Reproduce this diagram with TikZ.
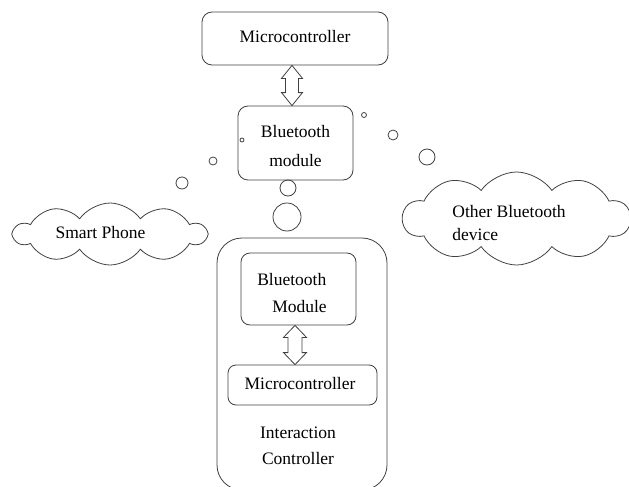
\documentclass[tikz,border=0pt]{standalone}
\usepackage{fontspec}
\setmainfont{Liberation Serif}
\usetikzlibrary{shapes.symbols,calc}
\begin{document}
\begin{tikzpicture}[x=1pt,y=-1pt,
  font=\fontsize{17.5}{21}\selectfont,
  ln/.style={draw=black!75,line width=0.8pt},
  rbox/.style={ln,rounded corners=#1,inner sep=0pt},
  bub/.style={ln,circle,inner sep=0pt,minimum size=#1},
  cld/.style={ln,cloud,cloud puffs=10,cloud puff arc=110,inner sep=0pt}]
\useasboundingbox (0,0) rectangle (629,487);
% top
\node[rbox=10pt,minimum width=186pt,minimum height=53pt] (mc) at (295,38.5) {};
\node (mct) at (295,37) {Microcontroller};
\node[rbox=10pt,minimum width=115pt,minimum height=74pt] (bt) at (295.5,143) {};
\node[align=center,inner sep=0pt] (btt) at (295.5,146) {Bluetooth\\[8pt]module};
\draw[ln,line join=miter] let \p1=($(mc.south)+(-3,0)$), \p2=(bt.north) in
  (\x1,\y1) -- (\x1+10.5pt,\y1-13pt) -- (\x1+6.5pt,\y1-13pt) -- (\x1+6.5pt,\y2+13pt)
  -- (\x1+10.5pt,\y2+13pt) -- (\x1,\y2) -- (\x1-10.5pt,\y2+13pt) -- (\x1-6.5pt,\y2+13pt)
  -- (\x1-6.5pt,\y1-13pt) -- (\x1-10.5pt,\y1-13pt) -- cycle;
% interaction controller
\node[rbox=25pt,minimum width=170pt,minimum height=252pt] (ic) at (302,364) {};
\node[rbox=9pt,minimum width=115pt,minimum height=72pt] (bm) at (298.5,289) {};
\node[align=left,inner sep=0pt] (bmt) at (292,293) {Bluetooth\\[6pt]\hspace*{15pt}Module};
\node[rbox=8pt,minimum width=149pt,minimum height=40pt] (mi) at (302.5,385) {};
\node (mit) at (300,384) {Microcontroller};
\draw[ln,line join=miter] let \p1=($(bm.south)+(-3.5,0)$), \p2=(mi.north) in
  (\x1,\y1) -- (\x1+11.5pt,\y1-12pt) -- (\x1+7pt,\y1-12pt) -- (\x1+7pt,\y2+12pt)
  -- (\x1+11.5pt,\y2+12pt) -- (\x1,\y2) -- (\x1-11.5pt,\y2+12pt) -- (\x1-7pt,\y2+12pt)
  -- (\x1-7pt,\y1-12pt) -- (\x1-11.5pt,\y1-12pt) -- cycle;
\node[align=center,inner sep=0pt] (ict) at (298,446) {Interaction\\[5pt]Controller};
% clouds
\node[cld,minimum width=192pt,minimum height=62pt] (sp) at (110,234) {};
\node (spt) at (100.5,233) {Smart Phone};
\node[cld,minimum width=227pt,minimum height=93pt] (ob) at (516.5,218.5) {};
\node[align=left,inner sep=0pt] (obt) at (509,223) {Other Bluetooth\\[2pt]device};
% bubbles
\node[bub=5pt] (b1) at (364,115) {};
\node[bub=10pt] (b2) at (393,135) {};
\node[bub=16pt] (b3) at (427,157) {};
\node[bub=4pt] (b4) at (242,140) {};
\node[bub=8pt] (b5) at (213,161) {};
\node[bub=12pt] (b6) at (182,183) {};
\node[bub=16pt] (b7) at (288,188) {};
\node[bub=28pt] (b8) at (287,217) {};
\end{tikzpicture}
\end{document}
